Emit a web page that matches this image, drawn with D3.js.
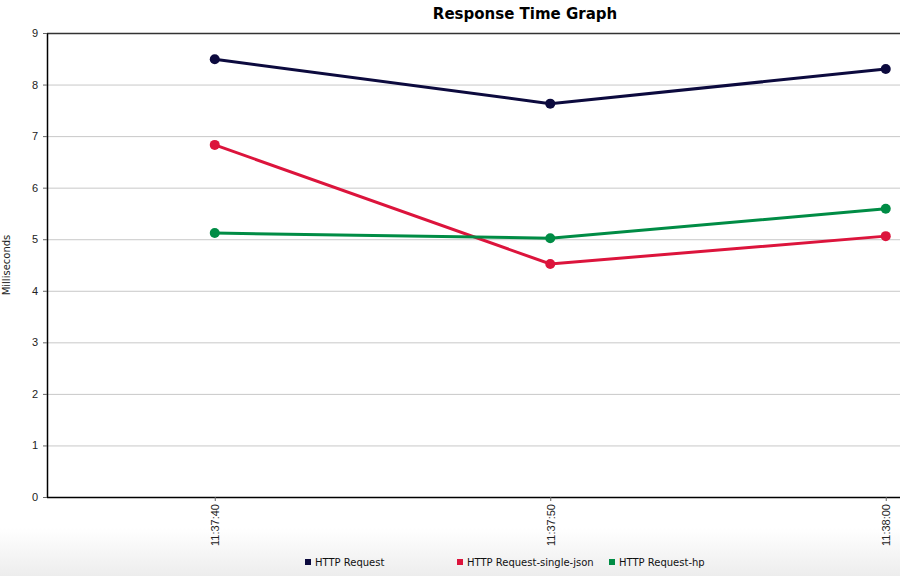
<!DOCTYPE html>
<html>
<head>
<meta charset="utf-8">
<script src="https://cdn.jsdelivr.net/npm/d3@7"></script>
<style>
  body { margin: 0; background: #fff; }
  svg { display: block; font-family: "DejaVu Sans", sans-serif; }
</style>
</head>
<body>
<svg id="chart"></svg>
<script>
var width = 900
var height = 576
var margin = {top: 33, right: 0, bottom: 79, left: 47}

// data
var times = ["11:37:40", "11:37:50", "11:38:00"]
var seriesNames = ["HTTP Request", "HTTP Request-single-json", "HTTP Request-hp"]
var seriesColors = ["#0c0a3e", "#dc143c", "#008c45"]
var httpRequest = [8.49, 7.63, 8.30]
var singleJson = [6.83, 4.52, 5.06]
var hp = [5.12, 5.02, 5.59]
var yTicks = [0, 1, 2, 3, 4, 5, 6, 7, 8, 9]

var allSeries = [httpRequest, singleJson, hp]

function parseTime(s) {
  var p = s.split(":")
  return new Date(2020, 0, 1, +p[0], +p[1], +p[2])
}

var svg = d3.select("#chart")
  .attr("width", width)
  .attr("height", height)

// soft gray band under the legend
var grad = svg.append("defs").append("linearGradient")
  .attr("id", "legendBg")
  .attr("x1", 0).attr("y1", 0).attr("x2", 0).attr("y2", 1)
grad.append("stop").attr("offset", "0%").attr("stop-color", "#ffffff")
grad.append("stop").attr("offset", "100%").attr("stop-color", "#ededed")
svg.append("rect")
  .attr("x", 0).attr("y", 528)
  .attr("width", width).attr("height", height - 528)
  .attr("fill", "url(#legendBg)")

var plotH = height - margin.top - margin.bottom
var chart = svg.append("g")
  .attr("transform", "translate(" + margin.left + "," + margin.top + ")")

var t0 = parseTime("11:37:35")
var t1 = parseTime("11:38:05")
var xChart = d3.scaleTime()
  .domain([t0, t1])
  .range([0, 335.5 * 3])

var yChart = d3.scaleLinear()
  .domain([0, 9])
  .range([plotH, 0])

// grid
chart.append("g")
  .selectAll("line")
  .data(yTicks.slice(1, -1))
  .enter()
  .append("line")
  .attr("x1", 0)
  .attr("x2", width - margin.left)
  .attr("y1", function(d){ return yChart(d) + 0.5 })
  .attr("y2", function(d){ return yChart(d) + 0.5 })
  .attr("stroke", "#c8c8c8")
  .attr("stroke-width", 1)

// top border
chart.append("line")
  .attr("x1", 0).attr("x2", width - margin.left)
  .attr("y1", 0.5).attr("y2", 0.5)
  .attr("stroke", "#333").attr("stroke-width", 1.5)

var yAxis = d3.axisLeft(yChart)
  .tickValues(yTicks)
  .tickFormat(d3.format("d"))
  .tickSize(4)
  .tickSizeOuter(0)

chart.append("g")
  .attr("class", "y axis")
  .call(yAxis)
  .call(function(g){
    g.select(".domain").attr("stroke", "#000").attr("stroke-width", 1.5)
    g.selectAll(".tick line").attr("stroke", "#666")
    g.selectAll("text").attr("font-size", 11).attr("fill", "#222").attr("dx", "-2")
  })

var xAxis = d3.axisBottom(xChart)
  .tickValues(times.map(parseTime))
  .tickFormat(d3.timeFormat("%H:%M:%S"))
  .tickSize(4)
  .tickSizeOuter(0)

chart.append("g")
  .attr("class", "xAxis")
  .attr("transform", "translate(0," + plotH + ")")
  .call(xAxis)
  .call(function(g){
    g.select(".domain").attr("stroke", "#000").attr("stroke-width", 1.5)
      .attr("d", "M0,0.5H" + (width - margin.left))
    g.selectAll(".tick line").attr("stroke", "#666")
  })
  .selectAll("text")
    .style("text-anchor", "end")
    .attr("font-size", 11)
    .attr("fill", "#222")
    .attr("x", -7)
    .attr("y", 0)
    .attr("dy", ".35em")
    .attr("transform", "rotate(-90)")

chart.append("text")
  .attr("transform", "translate(-37," + (plotH / 2) + ") rotate(-90)")
  .attr("text-anchor", "middle")
  .attr("font-size", 10)
  .attr("fill", "#222")
  .text("Milliseconds")

svg.append("text")
  .attr("x", 525)
  .attr("y", 19)
  .attr("text-anchor", "middle")
  .attr("font-size", 15)
  .attr("font-weight", "bold")
  .attr("fill", "#000")
  .text("Response Time Graph")

var line = d3.line()
  .x(function(d, i){ return xChart(parseTime(times[i])) })
  .y(function(d){ return yChart(d) })

allSeries.forEach(function(values, s){
  chart.append("path")
    .datum(values)
    .attr("fill", "none")
    .attr("stroke", seriesColors[s])
    .attr("stroke-width", 3)
    .attr("d", line)

  chart.selectAll(".dot" + s)
    .data(values)
    .enter()
    .append("circle")
    .attr("class", "dot" + s)
    .attr("cx", function(d, i){ return xChart(parseTime(times[i])) })
    .attr("cy", function(d){ return yChart(d) })
    .attr("r", 5)
    .attr("fill", seriesColors[s])
})

// legend
var legendX = [305, 457, 609]
var legend = svg.append("g")
  .selectAll("g")
  .data(seriesNames)
  .enter()
  .append("g")
  .attr("transform", function(d, i){ return "translate(" + legendX[i] + ",562)" })

legend.append("rect")
  .attr("x", 0).attr("y", -3)
  .attr("width", 6).attr("height", 6)
  .attr("fill", function(d, i){ return seriesColors[i] })

legend.append("text")
  .attr("x", 10)
  .attr("y", 0)
  .attr("dy", ".35em")
  .attr("font-size", 10)
  .attr("fill", "#111")
  .text(function(d){ return d })
</script>
</body>
</html>
